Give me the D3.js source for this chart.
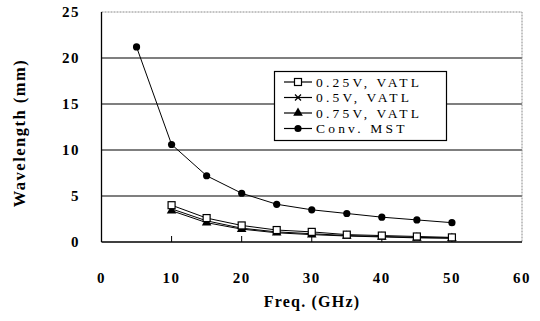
<!DOCTYPE html>
<html>
<head>
<meta charset="utf-8">
<script src="https://cdn.jsdelivr.net/npm/d3@7"></script>
<style>
  body { margin: 0; background: #fff; }
  text { font-family: "Liberation Serif", "DejaVu Serif", serif; fill: #000; }
</style>
</head>
<body>
<div id="chart"></div>
<script>
// data
const freq = [10, 15, 20, 25, 30, 35, 40, 45, 50];
const freqMst = [5, 10, 15, 20, 25, 30, 35, 40, 45, 50];
const vatl025 = [4.0, 2.6, 1.8, 1.3, 1.1, 0.8, 0.7, 0.6, 0.5];
const vatl05 = [3.6, 2.3, 1.5, 1.1, 0.9, 0.7, 0.6, 0.5, 0.45];
const vatl075 = [3.4, 2.1, 1.4, 1.0, 0.8, 0.65, 0.55, 0.45, 0.4];
const convMst = [21.2, 10.6, 7.2, 5.3, 4.1, 3.5, 3.1, 2.7, 2.4, 2.1];
const xTicks = [0, 10, 20, 30, 40, 50, 60];
const yTicks = [0, 5, 10, 15, 20, 25];
const seriesNames = ["0.25V, VATL", "0.5V, VATL", "0.75V, VATL", "Conv. MST"];

const width = 540, height = 321;
const margin = {left: 101.5, right: 18, top: 12, bottom: 79};

var svg = d3.select("#chart").append("svg")
    .attr("width", width).attr("height", height);

var x = d3.scaleLinear().domain([0, 60]).range([margin.left, width - margin.right]);
var y = d3.scaleLinear().domain([0, 25]).range([height - margin.bottom, margin.top]);

/* grid lines */
svg.append("g").selectAll("line")
    .data([5, 10, 15, 20])
    .enter().append("line")
    .attr("x1", x(0)).attr("x2", x(60))
    .attr("y1", d => y(d)).attr("y2", d => y(d))
    .attr("stroke", "#000").attr("stroke-width", 1.2);

/* dotted top and right border */
svg.append("path")
    .attr("d", "M" + x(0) + "," + y(25) + "H" + x(60) + "V" + y(0))
    .attr("fill", "none").attr("stroke", "#888")
    .attr("stroke-width", 1).attr("stroke-dasharray", "2,1");

/* axes */
svg.append("line").attr("x1", x(0)).attr("x2", x(0)).attr("y1", y(0)).attr("y2", y(25))
    .attr("stroke", "#000").attr("stroke-width", 1.3);
svg.append("line").attr("x1", x(0)).attr("x2", x(60)).attr("y1", y(0)).attr("y2", y(0))
    .attr("stroke", "#000").attr("stroke-width", 1.3);

svg.append("g").selectAll("line")
    .data(xTicks.slice(1, -1))
    .enter().append("line")
    .attr("x1", d => x(d)).attr("x2", d => x(d))
    .attr("y1", y(0)).attr("y2", y(0) - 6)
    .attr("stroke", "#000");

/* tick labels */
svg.append("g").selectAll("text")
    .data(xTicks)
    .enter().append("text")
    .attr("x", d => x(d)).attr("y", y(0) + 41)
    .attr("text-anchor", "middle")
    .attr("font-size", 15).attr("font-weight", "bold").attr("letter-spacing", 1.5)
    .text(d => d);

svg.append("g").selectAll("text")
    .data(yTicks)
    .enter().append("text")
    .attr("x", 80).attr("y", d => y(d) + 5)
    .attr("text-anchor", "end")
    .attr("font-size", 15).attr("font-weight", "bold").attr("letter-spacing", 1.5)
    .text(d => d);

/* axis titles */
svg.append("text")
    .attr("x", 312).attr("y", 307)
    .attr("text-anchor", "middle")
    .attr("font-size", 16).attr("font-weight", "bold").attr("letter-spacing", 1.2)
    .text("Freq. (GHz)");

svg.append("text")
    .attr("transform", "translate(25,133) rotate(-90)")
    .attr("text-anchor", "middle")
    .attr("font-size", 16.5).attr("font-weight", "bold").attr("letter-spacing", 1.5)
    .text("Wavelength (mm)");

/* series */
var line = d3.line().x(d => x(d[0])).y(d => y(d[1]));
var series = [
  {name: seriesNames[0], pts: d3.zip(freq, vatl025), marker: "square"},
  {name: seriesNames[1], pts: d3.zip(freq, vatl05), marker: "cross"},
  {name: seriesNames[2], pts: d3.zip(freq, vatl075), marker: "triangle"},
  {name: seriesNames[3], pts: d3.zip(freqMst, convMst), marker: "circle"}
];

function drawMarker(g, type) {
  if (type == "square") {
    g.append("rect").attr("x", -3.5).attr("y", -3.5).attr("width", 7).attr("height", 7)
      .attr("fill", "#fff").attr("stroke", "#000").attr("stroke-width", 1.2);
  } else if (type == "cross") {
    g.append("path").attr("d", "M-3,-3L3,3M-3,3L3,-3")
      .attr("stroke", "#000").attr("stroke-width", 1.2);
  } else if (type == "triangle") {
    g.append("path").attr("d", d3.symbol(d3.symbolTriangle, 40)())
      .attr("fill", "#000");
  } else {
    g.append("circle").attr("r", 3.6).attr("fill", "#000");
  }
}

series.forEach(function(s) {
  svg.append("path").datum(s.pts)
    .attr("d", line)
    .attr("fill", "none").attr("stroke", "#000").attr("stroke-width", 1);
});
// draw markers after lines, open squares last so they stay visible
[3, 2, 1, 0].forEach(function(i) {
  var s = series[i];
  svg.append("g").selectAll("g")
    .data(s.pts)
    .enter().append("g")
    .attr("transform", d => "translate(" + x(d[0]) + "," + y(d[1]) + ")")
    .each(function() { drawMarker(d3.select(this), s.marker); });
});

/* legend */
var legend = svg.append("g");
legend.append("rect")
    .attr("x", 274.5).attr("y", 71.5).attr("width", 172).attr("height", 69)
    .attr("fill", "#fff").attr("stroke", "#000").attr("stroke-width", 1.2);

series.forEach(function(s, i) {
  var ly = 82 + i * 15.5;
  legend.append("line").attr("x1", 284).attr("x2", 312).attr("y1", ly).attr("y2", ly)
    .attr("stroke", "#000").attr("stroke-width", 1.2);
  var mg = legend.append("g").attr("transform", "translate(298," + ly + ")");
  drawMarker(mg, s.marker);
  legend.append("text")
    .attr("x", 316).attr("y", ly + 4.5)
    .attr("font-size", 13.5).attr("letter-spacing", 3.2)
    .text(s.name);
});
</script>
</body>
</html>
